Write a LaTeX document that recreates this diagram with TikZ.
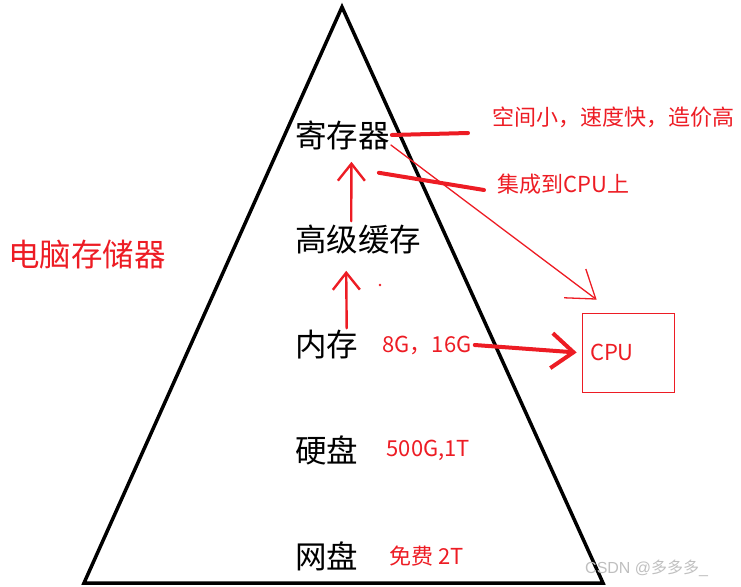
\documentclass[tikz,border=0pt]{standalone}
\usepackage{fontspec}
\newfontfamily\cjk{Noto Sans CJK SC}
\usetikzlibrary{arrows.meta,positioning}
\definecolor{inkred}{RGB}{237,28,36}

\begin{document}
\begin{tikzpicture}[x=1pt,y=-1pt,
  every node/.style={font=\cjk,inner sep=0pt},
  level/.style={anchor=west,font=\cjk\fontsize{31.5}{32}\selectfont},
  note/.style={anchor=west,text=inkred,font=\cjk\fontsize{22}{22}\selectfont},
  pen/.style={inkred,line width=4pt,line cap=round},
  midpen/.style={inkred,line width=2.4pt,line cap=round},
  finepen/.style={inkred,line width=1.3pt,line cap=round},
  barb/.style={-{Straight Barb[length=17pt,width=27pt]}}]
\useasboundingbox (0,0) rectangle (741,586);
% pyramid
\draw[line width=3.5pt,line join=miter] (342,7) -- (603,583) -- (84,583) -- cycle;
\node[anchor=west,text=inkred,font=\cjk\fontsize{31.5}{32}\selectfont] (title) at (8,255) {电脑存储器};
% levels
\node[level] (reg) at (295,135) {寄存器};
\node[level] (cache) at (295,240) {高级缓存};
\node[level] (mem) at (295,345) {内存};
\node[level] (disk) at (295,450) {硬盘};
\node[level] (net) at (295,556) {网盘};
% notes
\node[note] (speed) at (492,117) {空间小，速度快，造价高};
\node[note] (onchip) at (497,184) {集成到CPU上};
\node[note,right=24pt of mem] (memsize) {8G，16G};
\node[note,right=28pt of disk] (disksize) {500G,1T};
\node[note,right=31pt of net] (netsize) {免费 2T};
\node[draw=inkred,line width=0.6pt,minimum width=92pt,minimum height=79pt,text width=76pt,
  align=left,text=inkred,font=\cjk\fontsize{22}{22}\selectfont] (cpu) at (628,352.5) {\raisebox{-4pt}{CPU}};
% red marks
\draw[pen] ([xshift=2pt]reg.east) -- ([xshift=-24pt,yshift=-16pt]speed.west);
\draw[pen] ([xshift=-11pt,yshift=-23pt]reg.south east) -- ([xshift=-13pt,yshift=-6pt]onchip.west);
\draw[finepen,-{Straight Barb[length=26pt,width=36pt]}] ([xshift=1pt,yshift=-10pt]reg.east) -- ([xshift=15pt,yshift=13pt]cpu.north west);
\draw[midpen,barb] ([xshift=-7pt,yshift=4pt]cache.north) -- ([xshift=9pt,yshift=-12pt]reg.south);
\draw[midpen,barb] ([xshift=20pt,yshift=2pt]mem.north) -- ([xshift=-12pt,yshift=-16pt]cache.south);
\draw[pen,-{Straight Barb[length=22pt,width=35pt]}] ([xshift=3pt]memsize.east) -- ([xshift=-5pt]cpu.west);
\fill[inkred] (380,285) circle (1.3pt);
% watermark
\node[anchor=west,text=black!25,font=\fontspec{Liberation Sans}\fontsize{16}{16}\selectfont] (mark) at (585,568) {CSDN @{\cjk 多多多}\_};
\end{tikzpicture}
\end{document}
